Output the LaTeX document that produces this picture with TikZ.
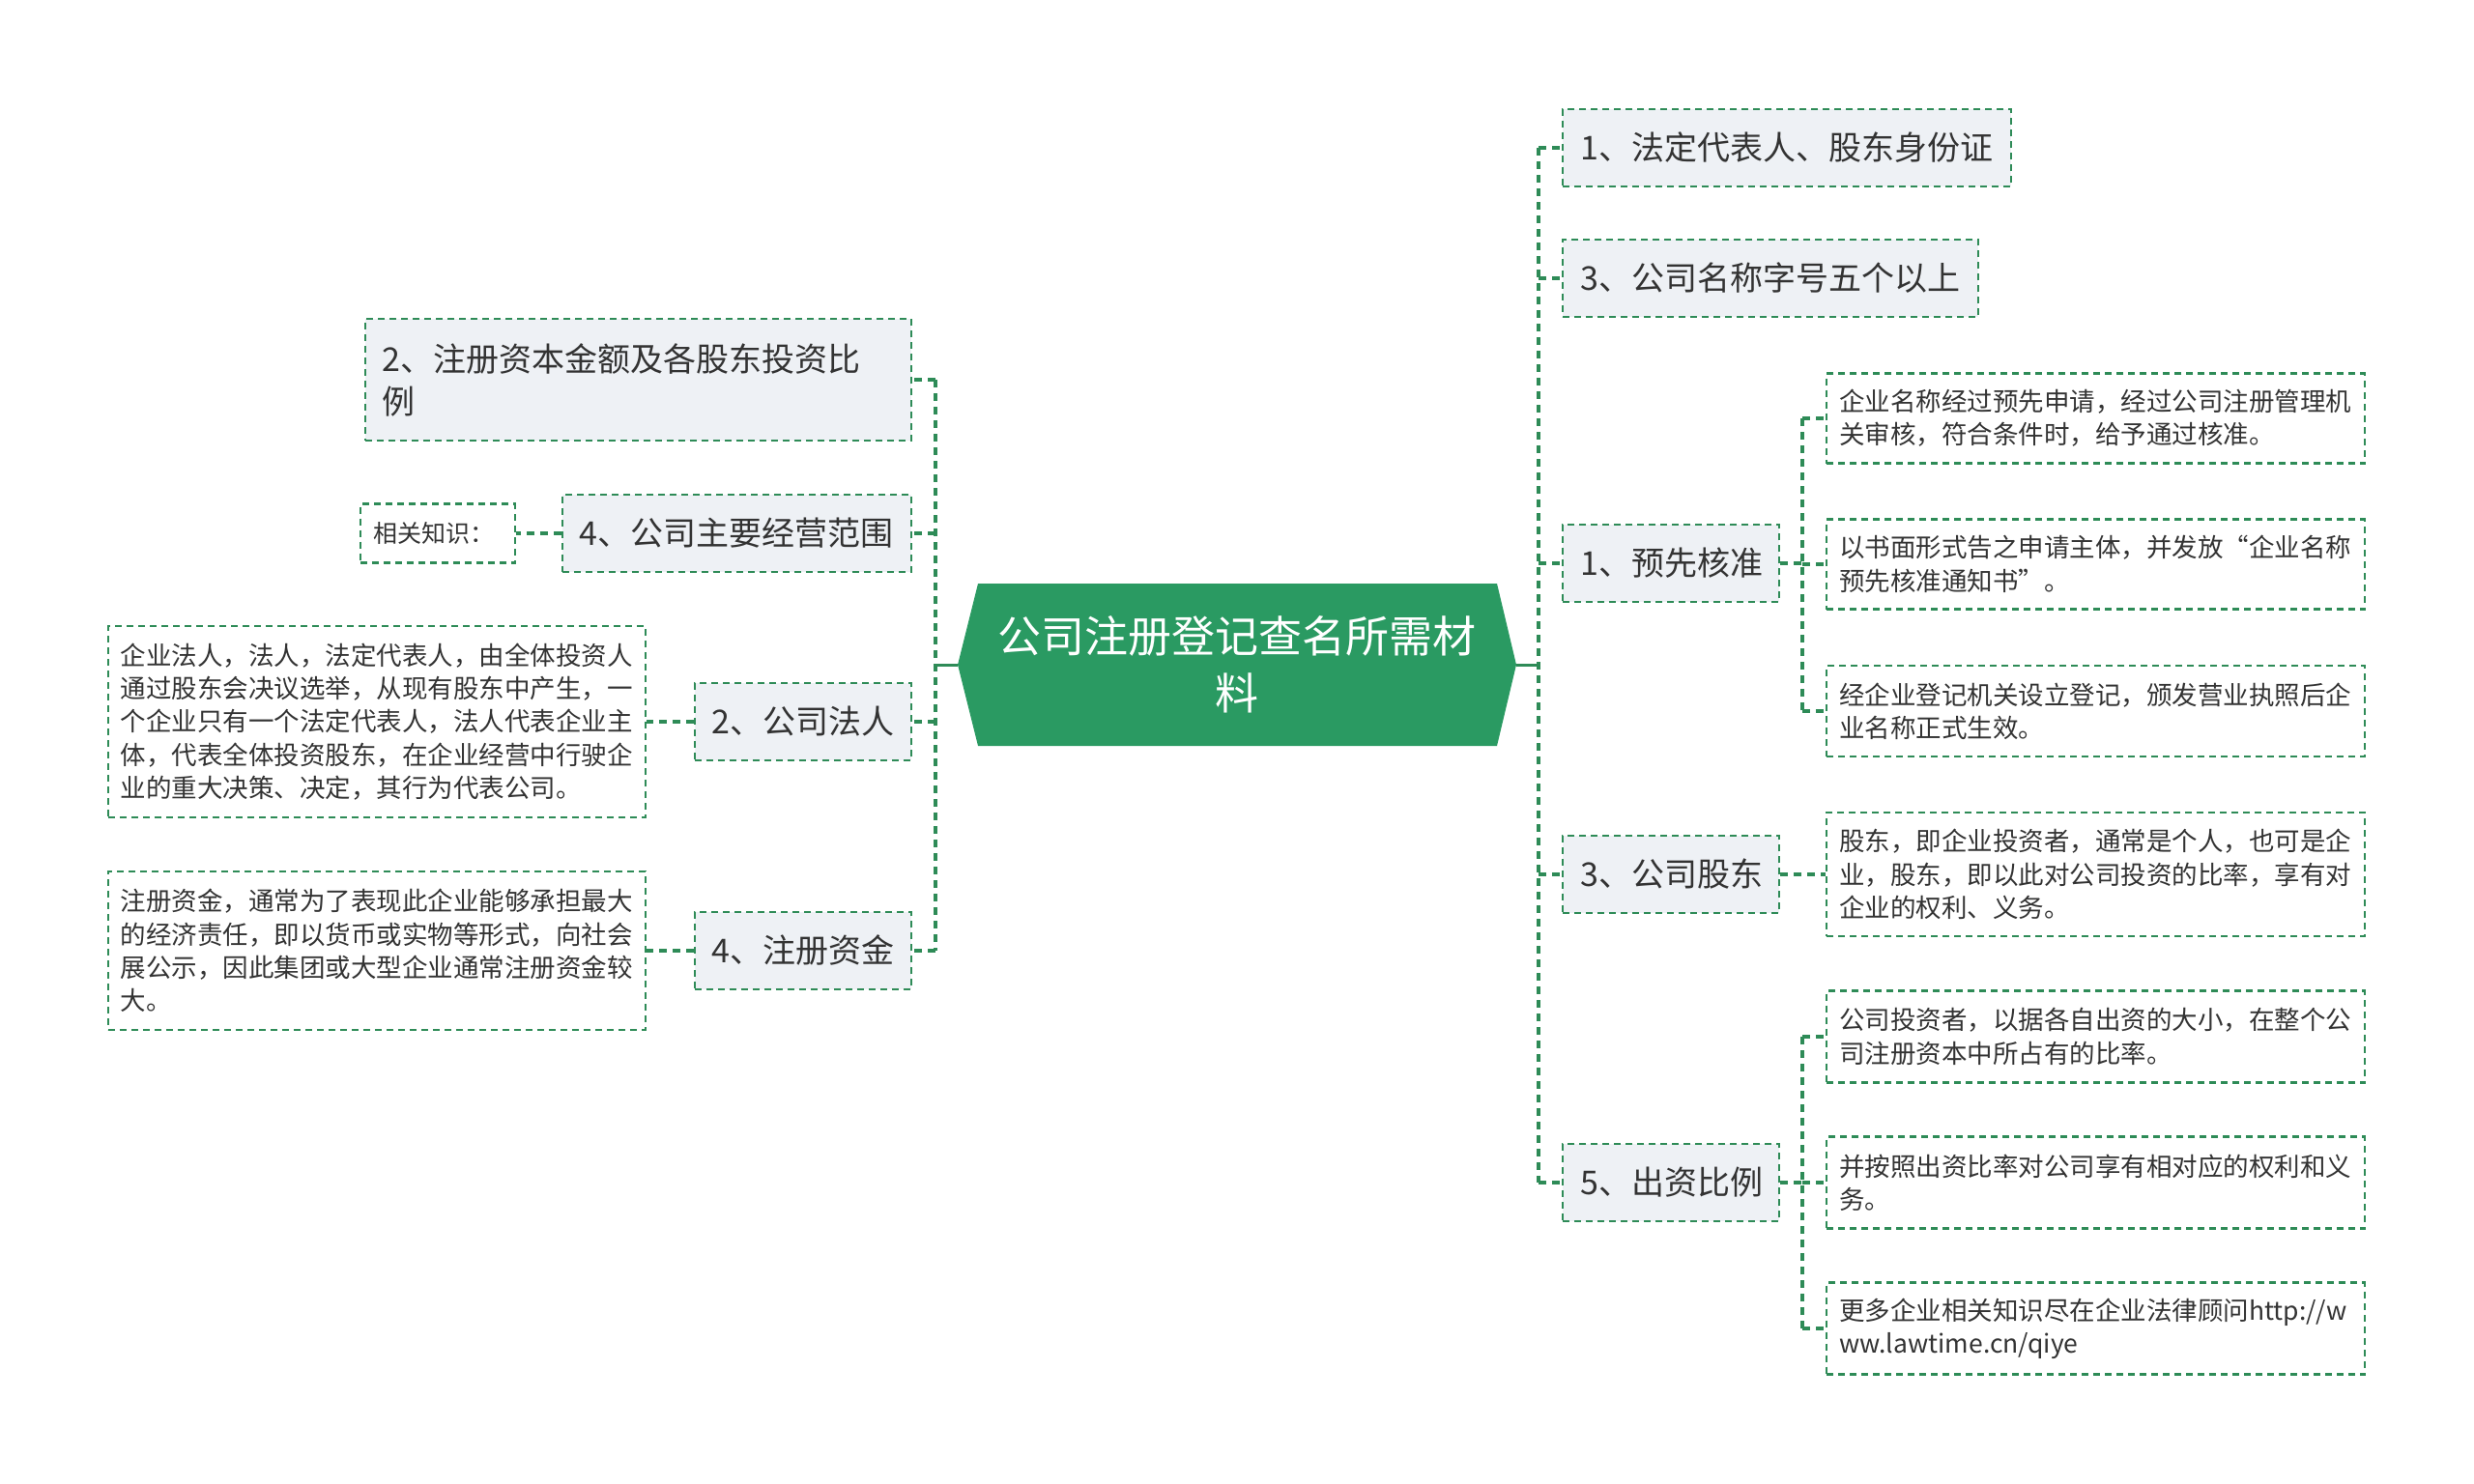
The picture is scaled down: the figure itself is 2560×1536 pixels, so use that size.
\documentclass[tikz,border=0pt]{standalone}
\usepackage{fontspec}
\setmainfont{Noto Sans CJK SC}
\definecolor{lc}{HTML}{2E8B57}
\definecolor{hexc}{HTML}{2A9A62}
\definecolor{tfill}{HTML}{EEF1F5}
\definecolor{tc}{HTML}{333333}
\newcommand\topicfont{\fontsize{34}{44}\selectfont}
\newcommand\leaffont{\fontsize{26.5}{34.3}\selectfont}
\newcommand\hexfont{\fontsize{45}{59}\selectfont}
\newcommand\notefont{\fontsize{25}{32}\selectfont}
\tikzset{
  conn/.style={draw=lc, line width=3.3pt, dash pattern=on 8pt off 6pt},
  solidconn/.style={draw=lc, line width=3pt},
  boxline/.style={draw=lc, line width=2.4pt, dash pattern=on 7pt off 5pt},
  topic/.style={boxline, fill=tfill,
    font=\topicfont, text=tc, align=left, inner xsep=18pt, inner ysep=0pt, minimum height=80pt},
  leaf/.style={boxline, fill=white,
    font=\leaffont, text=tc, align=left, inner xsep=13pt, inner ysep=0pt},
  note/.style={boxline, fill=white,
    font=\notefont, text=tc, align=left, inner xsep=14pt, inner ysep=0pt, minimum height=61pt},
  hexnode/.style={font=\hexfont, text=white, align=center, minimum width=578pt, minimum height=168pt, inner sep=0pt},
}
\begin{document}
\begin{tikzpicture}[x=1pt,y=-1pt]
\useasboundingbox[fill=white] (0,0) rectangle (2560,1536);

% central hexagon
\fill[hexc] (991,688) -- (1012,604) -- (1549,604) -- (1569,688) -- (1549,772) -- (1012,772) -- cycle;
\node[hexnode] (hex) at (1280,688) {公司注册登记查名所需材\\料};

% right topics
\node[topic, anchor=west, text width=428pt] (r1) at (1616,153) {1、法定代表人、股东身份证};
\node[topic, anchor=west, text width=394pt] (r2) at (1616,288) {3、公司名称字号五个以上};
\node[topic, anchor=west, text width=188pt] (r3) at (1616,583) {1、预先核准};
\node[topic, anchor=west, text width=188pt] (r4) at (1616,905) {3、公司股东};
\node[topic, anchor=west, text width=188pt] (r5) at (1616,1224) {5、出资比例};

% right leaves
\node[leaf, anchor=west, text width=531pt, minimum height=93pt] (a1) at (1889,433) {企业名称经过预先申请，经过公司注册管理机\\关审核，符合条件时，给予通过核准。};
\node[leaf, anchor=west, text width=531pt, minimum height=93pt] (a2) at (1889,584) {以书面形式告之申请主体，并发放“企业名称\\预先核准通知书”。};
\node[leaf, anchor=west, text width=531pt, minimum height=94pt] (a3) at (1889,736) {经企业登记机关设立登记，颁发营业执照后企\\业名称正式生效。};
\node[leaf, anchor=west, text width=531pt, minimum height=128pt] (b1) at (1889,905) {股东，即企业投资者，通常是个人，也可是企\\业，股东，即以此对公司投资的比率，享有对\\企业的权利、义务。};
\node[leaf, anchor=west, text width=531pt, minimum height=95pt] (c1) at (1889,1073) {公司投资者，以据各自出资的大小，在整个公\\司注册资本中所占有的比率。};
\node[leaf, anchor=west, text width=531pt, minimum height=95pt] (c2) at (1889,1224) {并按照出资比率对公司享有相对应的权利和义\\务。};
\node[leaf, anchor=west, text width=531pt, minimum height=95pt] (c3) at (1889,1375) {更多企业相关知识尽在企业法律顾问http://w\\ww.lawtime.cn/qiye};

% left topics
\node[topic, anchor=east, text width=529pt, minimum height=126pt] (l1) at (944,393) {2、注册资本金额及各股东投资比\\例};
\node[topic, anchor=east, text width=325pt] (l2) at (944,552) {4、公司主要经营范围};
\node[topic, anchor=east, text width=188pt] (l3) at (944,747) {2、公司法人};
\node[topic, anchor=east, text width=188pt] (l4) at (944,984) {4、注册资金};

% left leaves
\node[note, anchor=east, text width=132pt] (n1) at (534,552) {相关知识：};
\node[leaf, anchor=east, text width=530pt, minimum height=198pt] (d1) at (669,747) {企业法人，法人，法定代表人，由全体投资人\\通过股东会决议选举，从现有股东中产生，一\\个企业只有一个法定代表人，法人代表企业主\\体，代表全体投资股东，在企业经营中行驶企\\业的重大决策、决定，其行为代表公司。};
\node[leaf, anchor=east, text width=530pt, minimum height=164pt] (d2) at (669,984) {注册资金，通常为了表现此企业能够承担最大\\的经济责任，即以货币或实物等形式，向社会\\展公示，因此集团或大型企业通常注册资金较\\大。};

% trunk coordinates
\coordinate (rt) at (1592,688);
\coordinate (lt) at (968,688);
\coordinate (st3) at (1865,583);
\coordinate (st5) at (1865,1224);

% right connectors
\draw[solidconn] (hex.east) -- (rt);
\draw[conn] (r1.west -| rt) -- (r5.west -| rt);
\foreach \n in {r1,r2,r3,r4,r5} \draw[conn] (\n.west -| rt) -- (\n.west);
\draw[conn] (r3.east) -- (st3);
\draw[conn] (a1.west -| st3) -- (a3.west -| st3);
\foreach \n in {a1,a2,a3} \draw[conn] (\n.west -| st3) -- (\n.west);
\draw[conn] (r4.east) -- (b1.west);
\draw[conn] (r5.east) -- (st5);
\draw[conn] (c1.west -| st5) -- (c3.west -| st5);
\foreach \n in {c1,c2,c3} \draw[conn] (\n.west -| st5) -- (\n.west);

% left connectors
\draw[solidconn] (hex.west) -- (lt);
\draw[conn] (l1.east -| lt) -- (l4.east -| lt);
\foreach \n in {l1,l2,l3,l4} \draw[conn] (\n.east -| lt) -- (\n.east);
\draw[conn] (l2.west) -- (n1.east);
\draw[conn] (l3.west) -- (d1.east);
\draw[conn] (l4.west) -- (d2.east);
\end{tikzpicture}
\end{document}
